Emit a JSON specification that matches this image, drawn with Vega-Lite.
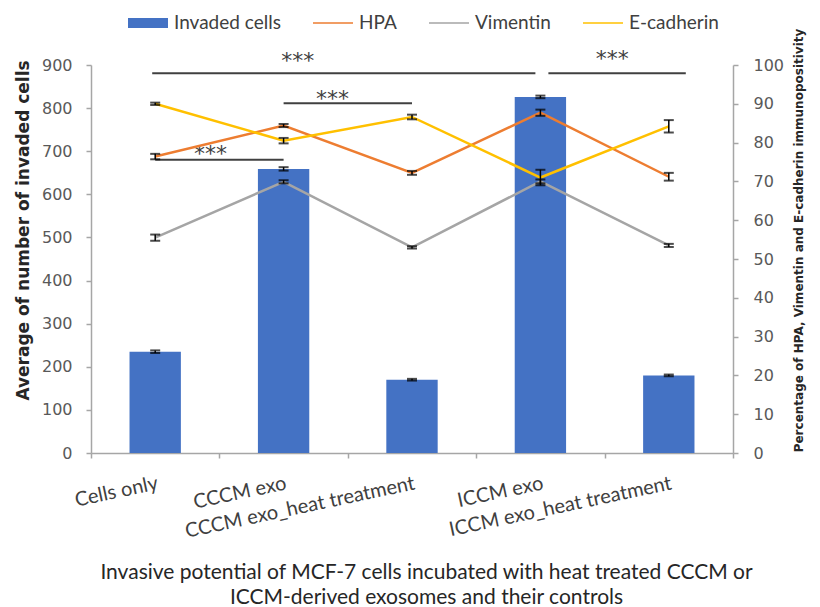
{
  "$schema": "https://vega.github.io/schema/vega-lite/v6.json",
  "width": 642,
  "height": 388,
  "autosize": {"type": "none"},
  "padding": {"left": 91, "top": 65, "right": 87, "bottom": 154},
  "background": "white",
  "config": {
    "view": {"stroke": null},
    "axis": {
      "grid": false,
      "domainColor": "#A6A6A6",
      "domainWidth": 1.5,
      "tickColor": "#A6A6A6",
      "tickWidth": 1.5,
      "tickSize": 5,
      "labelColor": "#595959",
      "labelFont": "DejaVu Sans",
      "labelFontSize": 16,
      "titleColor": "#262626",
      "titleFont": "DejaVu Sans"
    },
    "axisX": {
      "titleFont": "Lato",
      "titleFontSize": 21,
      "titleFontWeight": "normal",
      "titleLineHeight": 25,
      "titlePadding": 20,
      "tickBand": "extent",
      "labelAngle": -12,
      "labelAlign": "right",
      "labelBaseline": "top",
      "labelPadding": 15,
      "labelFont": "Lato",
      "labelFontSize": 20,
      "labelColor": "#404040",
      "labelOverlap": false,
      "labelLimit": 400
    },
    "axisLeft": {
      "titleFontSize": 17,
      "titleFontWeight": "bold",
      "titlePadding": 9,
      "titleY": 165,
      "labelPadding": 14
    },
    "axisRight": {
      "titleFontSize": 12,
      "titleFontWeight": "bold",
      "titleAngle": 270,
      "titlePadding": 22,
      "titleY": 175,
      "labelPadding": 15
    },
    "legend": {
      "title": null,
      "orient": "none",
      "direction": "horizontal",
      "legendX": 37,
      "legendY": -62,
      "padding": 0,
      "symbolSize": 1600,
      "symbolStrokeWidth": 0,
      "labelFont": "Lato",
      "labelFontSize": 19,
      "labelColor": "#404040",
      "labelOffset": 6,
      "columnPadding": 32
    }
  },
  "datasets": {
    "invasion": [
      {"group": "Cells only", "cells": 235, "sem": 3},
      {"group": "CCCM exo", "cells": 659, "sem": 4},
      {"group": "CCCM exo_heat treatment", "cells": 170, "sem": 2},
      {"group": "ICCM exo", "cells": 826, "sem": 3},
      {"group": "ICCM exo_heat treatment", "cells": 180, "sem": 2}
    ],
    "markers": [
      {"group": "Cells only", "marker": "HPA", "pct": 76.4, "err": 0.7},
      {"group": "CCCM exo", "marker": "HPA", "pct": 84.4, "err": 0.4},
      {"group": "CCCM exo_heat treatment", "marker": "HPA", "pct": 72.2, "err": 0.5},
      {"group": "ICCM exo", "marker": "HPA", "pct": 87.7, "err": 0.8},
      {"group": "ICCM exo_heat treatment", "marker": "HPA", "pct": 71.2, "err": 1.0},
      {"group": "Cells only", "marker": "Vimentin", "pct": 55.5, "err": 0.8},
      {"group": "CCCM exo", "marker": "Vimentin", "pct": 69.9, "err": 0.4},
      {"group": "CCCM exo_heat treatment", "marker": "Vimentin", "pct": 53.0, "err": 0.3},
      {"group": "ICCM exo", "marker": "Vimentin", "pct": 70.0, "err": 0.5},
      {"group": "ICCM exo_heat treatment", "marker": "Vimentin", "pct": 53.5, "err": 0.4},
      {"group": "Cells only", "marker": "E-cadherin", "pct": 90.0, "err": 0.3},
      {"group": "CCCM exo", "marker": "E-cadherin", "pct": 80.5, "err": 0.7},
      {"group": "CCCM exo_heat treatment", "marker": "E-cadherin", "pct": 86.6, "err": 0.6},
      {"group": "ICCM exo", "marker": "E-cadherin", "pct": 71.0, "err": 2.0},
      {"group": "ICCM exo_heat treatment", "marker": "E-cadherin", "pct": 84.2, "err": 1.6}
    ],
    "brackets": [
      {"pair": "a", "group": "Cells only", "to": "ICCM exo", "at": "CCCM exo", "cells": 881, "sig": "***"},
      {"pair": "b", "group": "ICCM exo", "to": "ICCM exo_heat treatment", "at": "ICCM exo_heat treatment", "cells": 881, "sig": "***"},
      {"pair": "c", "group": "CCCM exo", "to": "CCCM exo_heat treatment", "at": "CCCM exo", "cells": 811, "sig": "***"},
      {"pair": "d", "group": "Cells only", "to": "CCCM exo", "at": "Cells only", "cells": 680, "sig": "***"}
    ]
  },
  "layer": [
    {
      "encoding": {
        "x": {
          "field": "group",
          "type": "nominal",
          "sort": ["Cells only", "CCCM exo", "CCCM exo_heat treatment", "ICCM exo", "ICCM exo_heat treatment"],
          "scale": {"domain": ["Cells only", "CCCM exo", "CCCM exo_heat treatment", "ICCM exo", "ICCM exo_heat treatment"], "paddingInner": 0, "paddingOuter": 0},
          "axis": {"title": ["Invasive potential of MCF-7 cells incubated with heat treated CCCM or", "ICCM-derived exosomes and their controls"], "titleX": 335}
        },
        "y": {
          "field": "cells",
          "type": "quantitative",
          "scale": {"domain": [0, 900], "nice": false},
          "axis": {"title": "Average of  number of invaded cells", "values": [0, 100, 200, 300, 400, 500, 600, 700, 800, 900]}
        }
      },
      "layer": [
        {
          "data": {"name": "invasion"},
          "mark": {"type": "bar", "width": {"band": 0.4}},
          "encoding": {
            "color": {
              "datum": "Invaded cells",
              "type": "nominal",
              "scale": {"domain": ["Invaded cells", "HPA", "Vimentin", "E-cadherin"], "range": ["#4472C4", "#ED7D31", "#A5A5A5", "#FFC000"]},
              "legend": {
                "title": null,
                "encode": {
                  "symbols": {
                    "update": {
                      "shape": {"signal": "datum.value === 'Invaded cells' ? 'M-1,-0.25H1V0.25H-1Z' : 'M-1,-0.04H1V0.04H-1Z'"},
                      "fill": {"scale": "color", "field": "value"},
                      "opacity": {"value": 1}
                    }
                  }
                }
              }
            }
          }
        },
        {
          "data": {"name": "invasion"},
          "mark": {"type": "errorbar", "color": "black", "thickness": 1.5, "ticks": {"size": 10, "thickness": 2}},
          "encoding": {"yError": {"field": "sem"}}
        },
        {
          "data": {"name": "brackets"},
          "transform": [{"filter": "datum.pair === 'c' || datum.pair === 'd'"}],
          "mark": {"type": "rule", "color": "#404040", "strokeWidth": 2},
          "encoding": {"x2": {"field": "to"}}
        },
        {
          "data": {"name": "brackets"},
          "transform": [{"filter": "datum.pair === 'a'"}],
          "mark": {"type": "rule", "color": "#404040", "strokeWidth": 2, "xOffset": -3, "x2Offset": -5},
          "encoding": {"x2": {"field": "to"}}
        },
        {
          "data": {"name": "brackets"},
          "transform": [{"filter": "datum.pair === 'b'"}],
          "mark": {"type": "rule", "color": "#404040", "strokeWidth": 2, "xOffset": 8, "x2Offset": 17},
          "encoding": {"x2": {"field": "to"}}
        },
        {
          "data": {"name": "brackets"},
          "transform": [{"filter": "datum.pair === 'a'"}],
          "mark": {"type": "text", "font": "DejaVu Sans", "fontSize": 22, "color": "#404040", "baseline": "middle", "dy": -12},
          "encoding": {
            "x": {"field": "at", "type": "nominal", "bandPosition": 0.61, "sort": ["Cells only", "CCCM exo", "CCCM exo_heat treatment", "ICCM exo", "ICCM exo_heat treatment"]},
            "text": {"field": "sig"}
          }
        },
        {
          "data": {"name": "brackets"},
          "transform": [{"filter": "datum.pair === 'b'"}],
          "mark": {"type": "text", "font": "DejaVu Sans", "fontSize": 22, "color": "#404040", "baseline": "middle", "dy": -14},
          "encoding": {
            "x": {"field": "at", "type": "nominal", "bandPosition": 0.06, "sort": ["Cells only", "CCCM exo", "CCCM exo_heat treatment", "ICCM exo", "ICCM exo_heat treatment"]},
            "text": {"field": "sig"}
          }
        },
        {
          "data": {"name": "brackets"},
          "transform": [{"filter": "datum.pair === 'c'"}],
          "mark": {"type": "text", "font": "DejaVu Sans", "fontSize": 22, "color": "#404040", "baseline": "middle", "dy": -4},
          "encoding": {
            "x": {"field": "at", "type": "nominal", "bandPosition": 0.88, "sort": ["Cells only", "CCCM exo", "CCCM exo_heat treatment", "ICCM exo", "ICCM exo_heat treatment"]},
            "text": {"field": "sig"}
          }
        },
        {
          "data": {"name": "brackets"},
          "transform": [{"filter": "datum.pair === 'd'"}],
          "mark": {"type": "text", "font": "DejaVu Sans", "fontSize": 22, "color": "#404040", "baseline": "middle", "dy": -6},
          "encoding": {
            "x": {"field": "at", "type": "nominal", "bandPosition": 0.93, "sort": ["Cells only", "CCCM exo", "CCCM exo_heat treatment", "ICCM exo", "ICCM exo_heat treatment"]},
            "text": {"field": "sig"}
          }
        }
      ]
    },
    {
      "data": {"name": "markers"},
      "encoding": {
        "x": {
          "field": "group",
          "type": "nominal",
          "sort": ["Cells only", "CCCM exo", "CCCM exo_heat treatment", "ICCM exo", "ICCM exo_heat treatment"],
          "scale": {"domain": ["Cells only", "CCCM exo", "CCCM exo_heat treatment", "ICCM exo", "ICCM exo_heat treatment"], "paddingInner": 0, "paddingOuter": 0},
          "axis": {"title": ["Invasive potential of MCF-7 cells incubated with heat treated CCCM or", "ICCM-derived exosomes and their controls"], "titleX": 335}
        },
        "y": {
          "field": "pct",
          "type": "quantitative",
          "scale": {"domain": [0, 100], "nice": false},
          "axis": {"orient": "right", "title": "Percentage of HPA, Vimentin and E-cadherin immunopositivity", "values": [0, 10, 20, 30, 40, 50, 60, 70, 80, 90, 100]}
        }
      },
      "layer": [
        {
          "mark": {"type": "line", "strokeWidth": 2.5},
          "encoding": {
            "color": {
              "field": "marker",
              "type": "nominal",
              "scale": {"domain": ["Invaded cells", "HPA", "Vimentin", "E-cadherin"], "range": ["#4472C4", "#ED7D31", "#A5A5A5", "#FFC000"]},
              "legend": {
                "title": null,
                "encode": {
                  "symbols": {
                    "update": {
                      "shape": {"signal": "datum.value === 'Invaded cells' ? 'M-1,-0.25H1V0.25H-1Z' : 'M-1,-0.04H1V0.04H-1Z'"},
                      "fill": {"scale": "color", "field": "value"},
                      "opacity": {"value": 1}
                    }
                  }
                }
              }
            }
          }
        },
        {
          "mark": {"type": "errorbar", "color": "black", "thickness": 1.5, "ticks": {"size": 10, "thickness": 2}},
          "encoding": {"yError": {"field": "err"}}
        }
      ]
    }
  ],
  "resolve": {"scale": {"y": "independent"}}
}
